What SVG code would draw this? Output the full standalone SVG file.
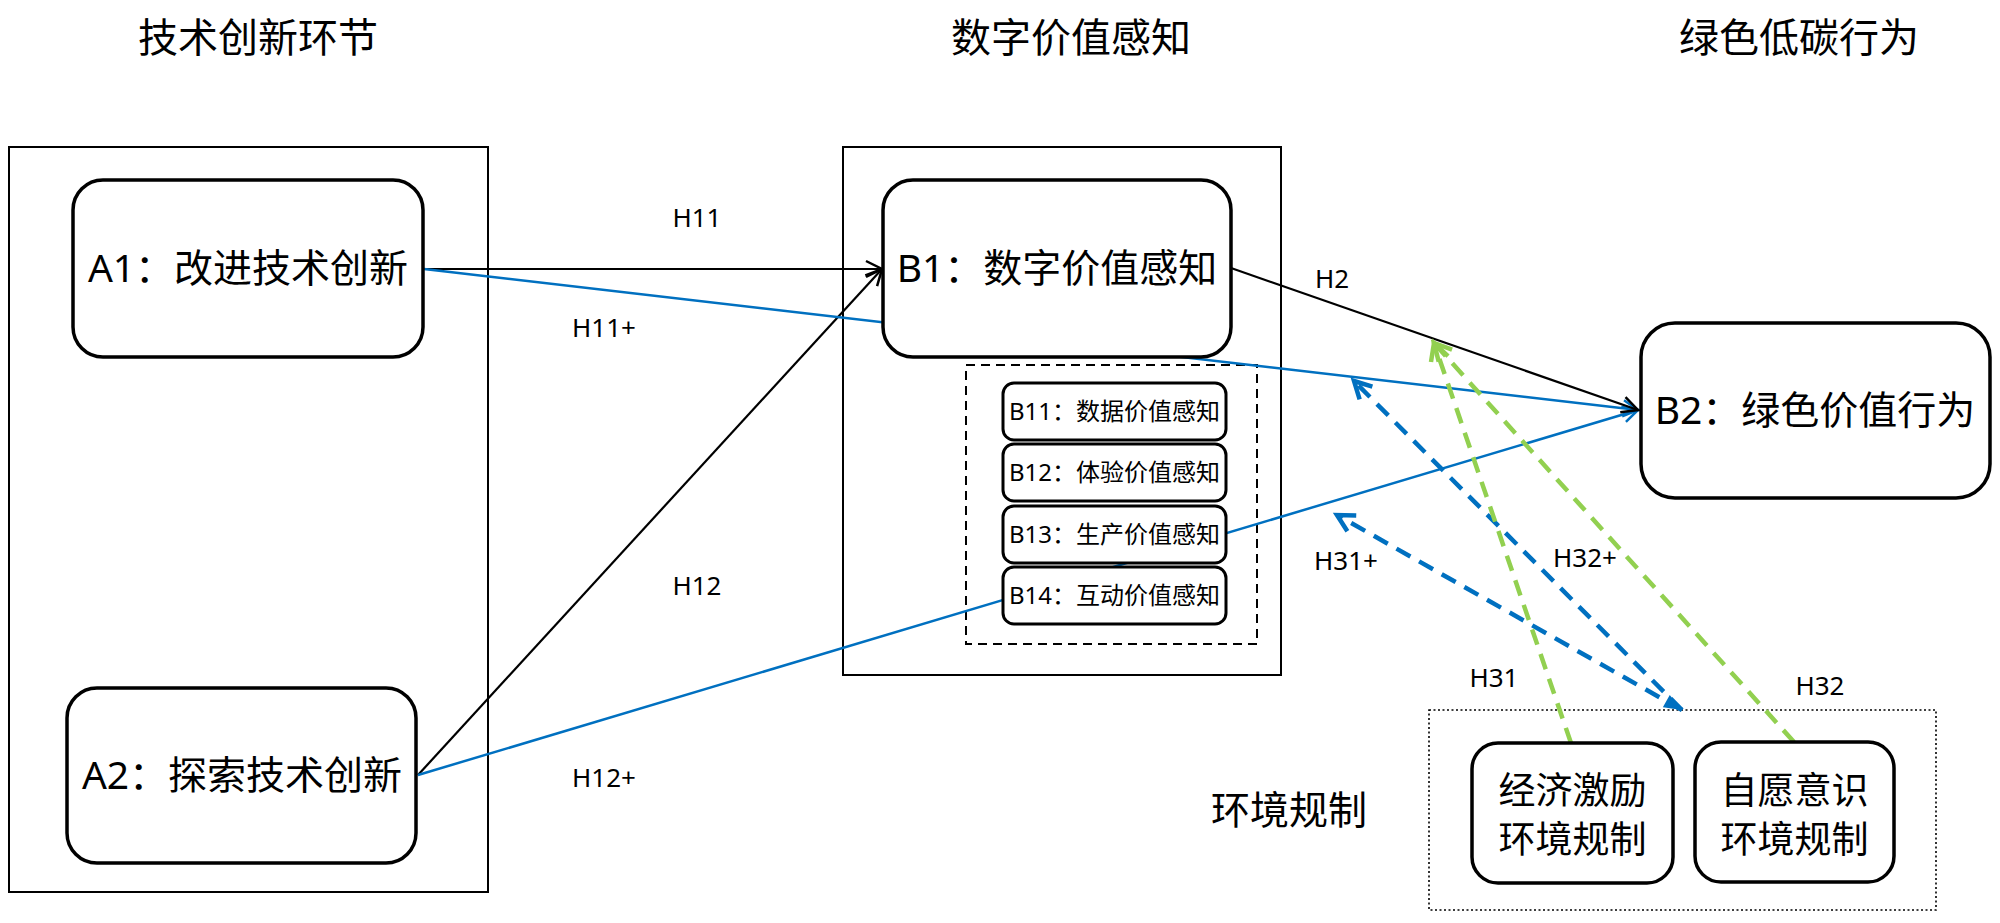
<svg xmlns="http://www.w3.org/2000/svg" width="2000" height="923" viewBox="0 0 2000 923">
<style>
text{font-family:"Noto Sans","Noto Sans CJK SC",sans-serif;fill:#000;text-anchor:middle}
.title{font-size:40px}
.big{font-size:39px}
.two{font-size:37px}
.small{font-size:24px}
.lbl{font-size:26px}
.frame{fill:none;stroke:#000;stroke-width:2}
.node{fill:#fff;stroke:#000;stroke-width:3.5}
.sub{fill:#fff;stroke:#000;stroke-width:3}
.k{fill:none;stroke:#000;stroke-width:2.2}
.b{fill:none;stroke:#0070C0;stroke-width:2.5}
.bd{fill:none;stroke:#0070C0;stroke-width:4.5;stroke-dasharray:16 10}
.gd{fill:none;stroke:#92D050;stroke-width:4.5;stroke-dasharray:16 10}
</style>
<defs>
<marker id="ah-k" viewBox="-20 -10 22 20" refX="0" refY="0" markerWidth="22" markerHeight="20" markerUnits="userSpaceOnUse" orient="auto" overflow="visible"><path d="M-16,-8 L0,0 L-16,8" fill="none" stroke="#000" stroke-width="2.5"/></marker>
<marker id="ah-b" viewBox="-20 -10 22 20" refX="0" refY="0" markerWidth="22" markerHeight="20" markerUnits="userSpaceOnUse" orient="auto" overflow="visible"><path d="M-15,-8 L0,0 L-15,8" fill="none" stroke="#0070C0" stroke-width="2.5"/></marker>
<marker id="ah-bd" viewBox="-20 -12 22 24" refX="0" refY="0" markerWidth="22" markerHeight="24" markerUnits="userSpaceOnUse" orient="auto" overflow="visible"><path d="M-17,-9 L0,0 L-17,9" fill="none" stroke="#0070C0" stroke-width="4.5"/></marker>
<marker id="ah-gd" viewBox="-20 -12 22 24" refX="0" refY="0" markerWidth="22" markerHeight="24" markerUnits="userSpaceOnUse" orient="auto" overflow="visible"><path d="M-17,-9 L0,0 L-17,9" fill="none" stroke="#92D050" stroke-width="4.5"/></marker>
<marker id="tri-b" viewBox="-20 -10 22 20" refX="0" refY="0" markerWidth="22" markerHeight="20" markerUnits="userSpaceOnUse" orient="auto-start-reverse" overflow="visible"><path d="M-18,-7 L0,0 L-18,7 Z" fill="#0070C0"/></marker>
</defs>
<rect width="2000" height="923" fill="#fff"/>

<g id="titles">
<text class="title" x="258" y="52">技术创新环节</text>
<text class="title" x="1071" y="52">数字价值感知</text>
<text class="title" x="1799" y="52">绿色低碳行为</text>
</g>

<g id="group-A"><rect class="frame" x="9" y="147" width="479" height="745"/></g>
<g id="group-B"><rect class="frame" x="843" y="147" width="438" height="528"/></g>
<g id="group-B1-sub"><rect x="966" y="365" width="291" height="279" fill="none" stroke="#000" stroke-width="2" stroke-dasharray="9 6"/></g>
<g id="group-E">
<rect x="1429" y="710" width="507" height="200" fill="none" stroke="#000" stroke-width="1.6" stroke-dasharray="2 2.5"/>
<text class="big" x="1289" y="824">环境规制</text>
</g>

<g id="connectors">
<line class="k" x1="424" y1="269" x2="882" y2="269" marker-end="url(#ah-k)"/>
<line class="k" x1="418" y1="775" x2="882" y2="269" marker-end="url(#ah-k)"/>
<line class="b" x1="424" y1="269" x2="1638" y2="410" marker-end="url(#ah-b)"/>
<line class="b" x1="418" y1="775" x2="1638" y2="410" marker-end="url(#ah-b)"/>
<line class="k" x1="1231" y1="268" x2="1638" y2="410" marker-end="url(#ah-k)"/>
<line class="bd" x1="1682" y1="710" x2="1337" y2="515" marker-start="url(#tri-b)" marker-end="url(#ah-bd)"/>
<line class="bd" x1="1682" y1="710" x2="1354" y2="381" marker-end="url(#ah-bd)"/>
<line class="gd" x1="1571" y1="743" x2="1434" y2="343" marker-end="url(#ah-gd)"/>
<line class="gd" x1="1794" y1="742" x2="1434" y2="343" marker-end="url(#ah-gd)"/>
</g>

<g id="labels">
<text class="lbl" x="697" y="227">H11</text>
<text class="lbl" x="604" y="337">H11+</text>
<text class="lbl" x="697" y="595">H12</text>
<text class="lbl" x="604" y="787">H12+</text>
<text class="lbl" x="1332" y="288">H2</text>
<text class="lbl" x="1346" y="570">H31+</text>
<text class="lbl" x="1585" y="567">H32+</text>
<text class="lbl" x="1494" y="687">H31</text>
<text class="lbl" x="1820" y="695">H32</text>
</g>

<g id="A1"><rect class="node" x="73" y="180" width="350" height="177" rx="30"/><text class="big" x="248" y="282">A1：改进技术创新</text></g>
<g id="A2"><rect class="node" x="67" y="688" width="349" height="175" rx="30"/><text class="big" x="242" y="789">A2：探索技术创新</text></g>
<g id="B1"><rect class="node" x="883" y="180" width="348" height="177" rx="30"/><text class="big" x="1057" y="282">B1：数字价值感知</text></g>
<g id="B11"><rect class="sub" x="1003" y="383" width="223" height="57" rx="11"/><text class="small" x="1114.5" y="420">B11：数据价值感知</text></g>
<g id="B12"><rect class="sub" x="1003" y="444" width="223" height="57" rx="11"/><text class="small" x="1114.5" y="481">B12：体验价值感知</text></g>
<g id="B13"><rect class="sub" x="1003" y="506" width="223" height="57" rx="11"/><text class="small" x="1114.5" y="543">B13：生产价值感知</text></g>
<g id="B14"><rect class="sub" x="1003" y="567" width="223" height="57" rx="11"/><text class="small" x="1114.5" y="604">B14：互动价值感知</text></g>
<g id="B2"><rect class="node" x="1641" y="323" width="349" height="175" rx="34"/><text class="big" x="1815" y="424">B2：绿色价值行为</text></g>
<g id="E1"><rect class="node" x="1472" y="743" width="201" height="140" rx="26"/><text class="two" x="1572.5" y="804">经济激励</text><text class="two" x="1572.5" y="853">环境规制</text></g>
<g id="E2"><rect class="node" x="1695" y="742" width="199" height="140" rx="26"/><text class="two" x="1794.5" y="804">自愿意识</text><text class="two" x="1794.5" y="853">环境规制</text></g>
</svg>
